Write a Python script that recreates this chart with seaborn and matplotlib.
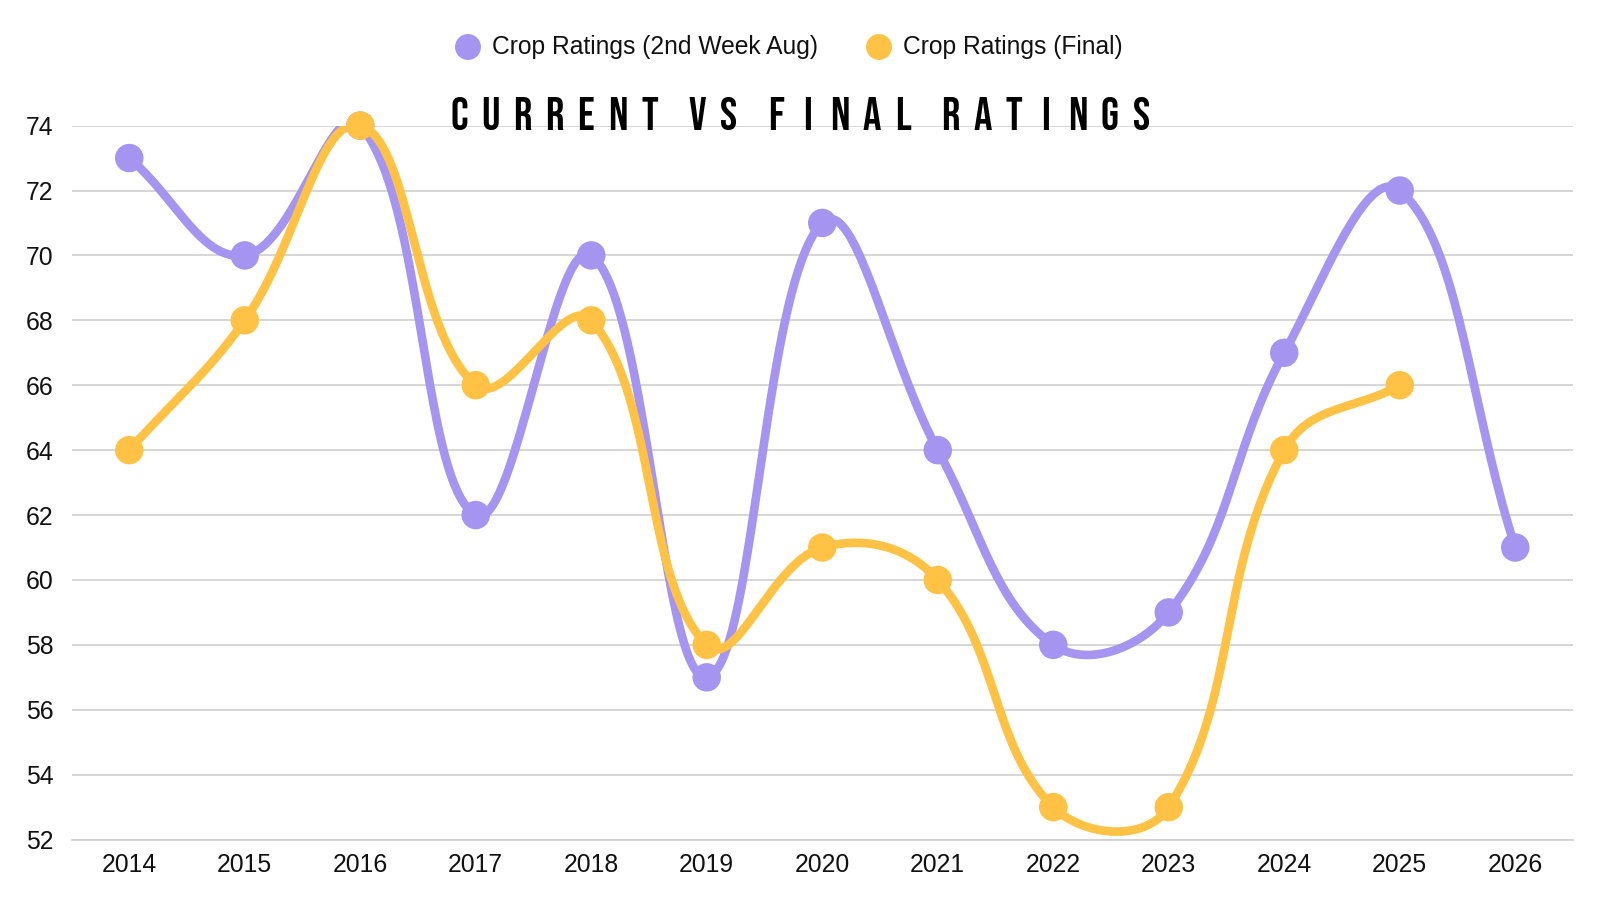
import numpy as np
import pandas as pd
import matplotlib
matplotlib.use("Agg")
import matplotlib.pyplot as plt
from matplotlib import font_manager
import seaborn as sns

years = [2014, 2015, 2016, 2017, 2018, 2019, 2020, 2021, 2022, 2023, 2024, 2025, 2026]
current = [73, 70, 74, 62, 70, 57, 71, 64, 58, 59, 67, 72, 61]
final = [64, 68, 74, 66, 68, 58, 61, 60, 53, 53, 64, 66, None]
yticks = [52, 54, 56, 58, 60, 62, 64, 66, 68, 70, 72, 74]
series_names = ["Crop Ratings (2nd Week Aug)", "Crop Ratings (Final)"]
colors = ["#a594f0", "#ffc244"]
title = "CURRENT VS FINAL RATINGS"

sns.set_theme(style="white")
plt.rcParams['font.family'] = ['Liberation Sans', 'DejaVu Sans']

W, H = 1600, 900
fig = plt.figure(figsize=(16, 9), dpi=100)
L, R, B, T = 71.5, 1573, 839.6, 125.6
ax = fig.add_axes([L / W, 1 - B / H, (R - L) / W, (B - T) / H])

SX, SY = 125.0, 32.45  # approx pixel scale per unit


def spline(xs, ys, tension=0.4, n=40):
    P = np.column_stack([np.array(xs, float) * SX, np.array(ys, float) * SY])
    m = len(P)
    cps = []
    for i in range(m):
        prev = P[max(i - 1, 0)]
        cur = P[i]
        nxt = P[min(i + 1, m - 1)]
        d01 = np.hypot(*(cur - prev))
        d12 = np.hypot(*(nxt - cur))
        tot = d01 + d12
        s01 = d01 / tot if tot else 0
        s12 = d12 / tot if tot else 0
        fa, fb = tension * s01, tension * s12
        cps.append((cur - fa * (nxt - prev), cur + fb * (nxt - prev)))
    out = []
    t = np.linspace(0, 1, n)[:, None]
    for i in range(m - 1):
        p0, p3 = P[i], P[i + 1]
        p1, p2 = cps[i][1], cps[i + 1][0]
        seg = ((1 - t) ** 3) * p0 + 3 * ((1 - t) ** 2) * t * p1 + 3 * (1 - t) * t ** 2 * p2 + t ** 3 * p3
        out.append(seg if i == 0 else seg[1:])
    out = np.vstack(out)
    return out[:, 0] / SX, out[:, 1] / SY


for vals, name, col in zip([current, final], series_names, colors):
    df = pd.DataFrame({"year": years, "value": vals}).dropna()
    sx, sy = spline(df["year"].values, df["value"].values)
    sm = pd.DataFrame({"year": sx, "value": sy})
    sns.lineplot(data=sm, x="year", y="value", ax=ax, color=col, linewidth=6.2,
                 sort=False, estimator=None, zorder=3)
    sns.scatterplot(data=df, x="year", y="value", ax=ax, color=col, s=420,
                    edgecolor="none", zorder=4, clip_on=False)

ax.set_xlim(years[0] - 0.5, years[-1] + 0.5)
ax.set_ylim(52, 74)
ax.set_xticks(years)
ax.set_xticklabels([str(y) for y in years])
ax.set_yticks(yticks)
ax.set_yticklabels([str(v) for v in yticks])
ax.tick_params(axis="both", labelsize=17.8, colors="#111111", length=0)
ax.tick_params(axis="x", pad=10)
ax.tick_params(axis="y", pad=13)
ax.grid(axis="y", color="#d0d0d0", linewidth=1.2)
ax.set_axisbelow(True)
for s in ["top", "right", "left"]:
    ax.spines[s].set_visible(False)
ax.spines["bottom"].set_color("#d0d0d0")
ax.spines["bottom"].set_linewidth(1.2)
ax.set_xlabel("")
ax.set_ylabel("")

# legend
for xpix, name, col in [(468, series_names[0], colors[0]), (879, series_names[1], colors[1])]:
    fig.patches.append(matplotlib.patches.Ellipse((xpix / W, 1 - 47 / H), 24.5 / W, 24.5 / H,
                                                  transform=fig.transFigure, color=col))
    fig.text((xpix + 24) / W, 1 - 47 / H, name, fontsize=17.7, va="center", ha="left",
             color="#111111")

# title font: Bebas Neue if present
names = {f.name for f in font_manager.fontManager.ttflist}
fprop = None
for pref in ["Bebas Neue", "Oswald", "Anton", "Archivo Narrow", "Asap Condensed"]:
    if pref in names:
        fprop = dict(family=pref, weight="bold")
        break
if fprop is None:
    fprop = dict(family="Liberation Sans", weight="bold")

x0, x1 = 446 + 13, 1154 - 13
adv = []
pos = 0.0
for ch in title:
    if ch == " ":
        pos += 0.5
    else:
        adv.append((ch, pos))
        pos += 1.0
span = adv[-1][1]
for ch, p in adv:
    fig.text((x0 + (x1 - x0) * p / span) / W, 1 - 114 / H, ch, fontsize=33, ha="center",
             va="center", color="#000000", **fprop)

fig.savefig("out.png", dpi=100, facecolor="white")
